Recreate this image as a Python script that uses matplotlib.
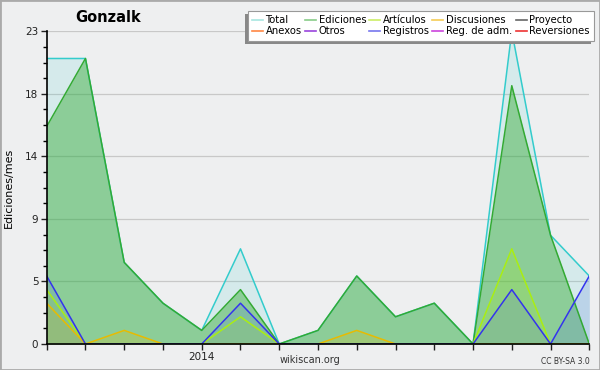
import matplotlib
matplotlib.use("Agg")
import matplotlib.pyplot as plt
from matplotlib.patches import Rectangle
from matplotlib.ticker import FixedLocator, AutoMinorLocator
from matplotlib.transforms import IdentityTransform

# Monthly data (Sep 2013 - Nov 2014)
months = ['2013-09', '2013-10', '2013-11', '2013-12', '2014-01', '2014-02', '2014-03',
          '2014-04', '2014-05', '2014-06', '2014-07', '2014-08', '2014-09', '2014-10', '2014-11']
total = [21, 21, 6, 3, 1, 7, 0, 1, 5, 2, 3, 0, 23, 8, 5]
ediciones = [16, 21, 6, 3, 1, 4, 0, 1, 5, 2, 3, 0, 19, 8, 0]
articulos = [4, 0, 0, 0, 0, 2, 0, 0, 0, 0, 0, 0, 7, 0, 0]
discusiones = [3, 0, 1, 0, 0, 0, 0, 0, 1, 0, 0, 0, 0, 0, 0]
registros = [5, 0, 0, 0, 0, 3, 0, 0, 0, 0, 0, 0, 4, 0, 5]

legend_names = ['Total', 'Ediciones', 'Artículos', 'Discusiones', 'Proyecto',
                'Anexos', 'Otros', 'Registros', 'Reg. de adm.', 'Reversiones']
legend_colors = ['#a8e6e0', '#88cc88', '#ccee66', '#f5cc55', '#666666',
                 '#ff8844', '#9944dd', '#7777ee', '#cc44dd', '#ee3333']

bg = '#eeeff0'
fig = plt.figure(figsize=(6, 3.7), dpi=100, facecolor=bg)
ax = fig.add_axes([46.7 / 600, 1 - 344 / 370, (589.3 - 46.7) / 600, (344 - 31.3) / 370])
ax.set_facecolor(bg)

x = list(range(len(months)))

# series: values, line colour, fill colour, fill alpha
series = [
    (total, '#33cccc', '#33cccc', 0.13),
    (ediciones, '#33aa33', '#33aa33', 0.45),
    (articulos, '#aaee11', '#aaee11', 0.2),
    (discusiones, '#e8bb00', '#e8bb00', 0.2),
    (registros, '#3333ee', '#5577dd', 0.2),
]
for vals, lc, fc, a in series:
    ax.fill_between(x, vals, 0, color=fc, alpha=a, linewidth=0)
    ax.plot(x, vals, color=lc, linewidth=1.1)

ax.set_xlim(0, len(months) - 1)
ax.set_ylim(0, 23)

# y ticks: 5 equal steps, labels rounded
yt = [23 * i / 5 for i in range(6)]
ax.yaxis.set_major_locator(FixedLocator(yt))
ax.set_yticklabels([f'{round(v)}' for v in yt])
ax.yaxis.set_minor_locator(AutoMinorLocator(4))
ax.set_xticks(x)
ax.set_xticklabels(['2014' if m == '2014-01' else '' for m in months])

ax.tick_params(axis='both', labelsize=7.5, colors='#222222', length=4, width=1, direction='out', pad=2)
ax.tick_params(axis='y', which='minor', length=3, width=1)
ax.grid(axis='y', color='#c8c8c8', linewidth=0.9)
ax.set_axisbelow(True)
for s in ['top', 'right']:
    ax.spines[s].set_visible(False)
for s in ['left', 'bottom']:
    ax.spines[s].set_color('black')
    ax.spines[s].set_linewidth(1.2)
    ax.spines[s].set_zorder(3)

ax.set_ylabel('Ediciones/mes', fontsize=8, labelpad=8)
fig.text(108 / 600, 1 - 17 / 370, 'Gonzalk', fontsize=10.5, fontweight='bold', ha='center', va='center')
fig.text(310 / 600, 1 - 360 / 370, 'wikiscan.org', fontsize=7, ha='center', va='center', color='#333333')
fig.text(590 / 600, 1 - 361 / 370, 'CC BY-SA 3.0', fontsize=5.5, ha='right', va='center', color='#333333')

# legend, filled column by column so rows read left to right
order = [0, 5, 1, 6, 2, 7, 3, 8, 4, 9]
handles = [plt.Line2D([], [], color=legend_colors[i], linewidth=1.2) for i in order]
labels = [legend_names[i] for i in order]
leg = fig.legend(handles, labels, ncol=5, loc='upper right', bbox_to_anchor=(594 / 600, 1 - 11 / 370),
                 fontsize=7.2, frameon=True, fancybox=False, edgecolor='#999999', framealpha=1,
                 handlelength=1.1, handletextpad=0.3, columnspacing=0.3, labelspacing=0.15,
                 borderpad=0.4, borderaxespad=0)
leg.get_frame().set_linewidth(0.8)
leg.set_zorder(6)

fig.canvas.draw()
bb = leg.get_window_extent()
shadow = Rectangle((bb.x0 - 3, bb.y0 - 3), bb.width, bb.height, transform=IdentityTransform(),
                   facecolor='#888888', edgecolor='none', zorder=5)
fig.add_artist(shadow)

# outer border
fig.add_artist(Rectangle((0, 0), 1, 1, transform=fig.transFigure, fill=False,
                         edgecolor='#aaaaaa', linewidth=2))

fig.savefig('out.png', dpi=100, facecolor=bg)
